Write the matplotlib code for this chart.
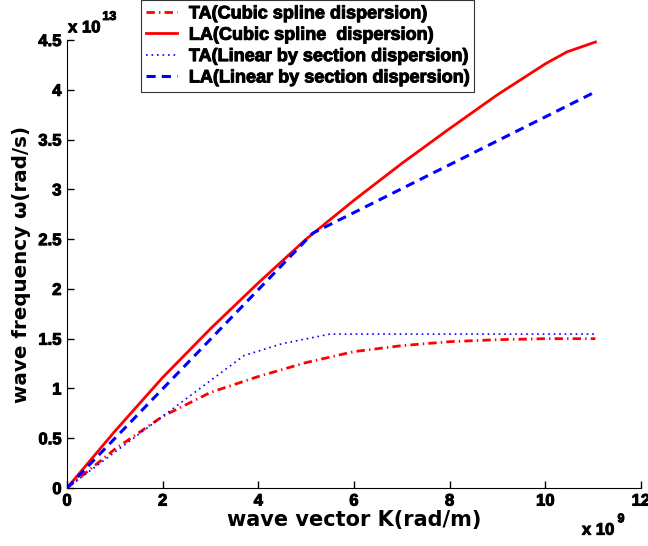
import numpy as np
import matplotlib.pyplot as plt
import matplotlib.patheffects as pe

plt.rcParams['font.family'] = ['Liberation Sans', 'DejaVu Sans']
plt.rcParams['font.weight'] = 'bold'

# wave vector in units of 1e9 rad/m, frequency in units of 1e13 rad/s
k_ta_spline = [0, 1, 2, 3, 4, 5, 6, 7, 8, 9, 10, 11.05]
w_ta_spline = [0, 0.39, 0.72, 0.96, 1.12, 1.26, 1.37, 1.43, 1.47, 1.49, 1.50, 1.50]

k_la_spline = [0, 1, 2, 3, 4, 5, 6, 7, 8, 9, 10, 10.45, 11.05]
w_la_spline = [0, 0.57, 1.11, 1.60, 2.06, 2.50, 2.89, 3.26, 3.61, 3.95, 4.26, 4.38, 4.48]

k_ta_linear = [0, 2, 3.7, 4.5, 5.5, 11.05]
w_ta_linear = [0, 0.72, 1.33, 1.45, 1.546, 1.546]

k_la_linear = [0, 5.14, 11.05]
w_la_linear = [0, 2.56, 3.98]

labels = ['TA(Cubic spline dispersion)',
          'LA(Cubic spline  dispersion)',
          'TA(Linear by section dispersion)',
          'LA(Linear by section dispersion)']

heavy = [pe.withStroke(linewidth=0.7, foreground='black')]

fig = plt.figure(figsize=(6.48, 5.46), dpi=100)
ax = fig.add_axes([0.1034, 0.1062, 0.8856, 0.8205])

ax.plot(k_ta_spline, w_ta_spline, color='red', linestyle=(0, (3, 1.5, 0.5, 1.5)),
        linewidth=2, label=labels[0])
ax.plot(k_la_spline, w_la_spline, color='red', linestyle='-', linewidth=2, label=labels[1])
ax.plot(k_ta_linear, w_ta_linear, color='blue', linestyle=(0, (1, 2.3)),
        linewidth=1.2, label=labels[2])
ax.plot(k_la_linear, w_la_linear, color='blue', linestyle=(0, (3, 2)),
        linewidth=2.2, label=labels[3])

ax.set_xlim(0, 12)
ax.set_ylim(0, 4.5)
ax.set_xticks(np.arange(0, 13, 2))
ax.set_yticks(np.arange(0, 4.6, 0.5))
ax.set_yticklabels(['0', '0.5', '1', '1.5', '2', '2.5', '3', '3.5', '4', '4.5'])
ax.tick_params(direction='in', length=5, width=1, labelsize=12, pad=4)
for lab in ax.get_xticklabels() + ax.get_yticklabels():
    lab.set_fontweight('bold')
    lab.set_path_effects(heavy)

ax.spines['top'].set_visible(False)
ax.spines['right'].set_visible(False)

label_font = dict(family=['DejaVu Sans'], fontweight='bold')
ax.set_xlabel('wave vector K(rad/m)', labelpad=1, fontsize=15, **label_font)
ax.set_ylabel('wave frequency ω(rad/s)', labelpad=5, fontsize=14.3, **label_font)

# exponent labels in the MATLAB style
for x, y, s, size in [(0.105, 0.949, 'x 10', 12), (0.158, 0.969, '13', 9),
                      (0.898, 0.029, 'x 10', 12), (0.953, 0.049, '9', 9)]:
    fig.text(x, y, s, fontsize=size, fontweight='bold', ha='left', va='center',
             path_effects=heavy)

leg = fig.legend(loc='upper left', bbox_to_anchor=(0.2176, 1.0), fontsize=13,
                 frameon=True, fancybox=False, borderpad=0.3, labelspacing=0.24,
                 handlelength=1.7, handletextpad=0.65, borderaxespad=0)
leg.get_frame().set_edgecolor('black')
leg.get_frame().set_linewidth(0.8)
for t in leg.get_texts():
    t.set_fontweight('bold')
    t.set_path_effects(heavy)

fig.savefig('out.png', dpi=100)
